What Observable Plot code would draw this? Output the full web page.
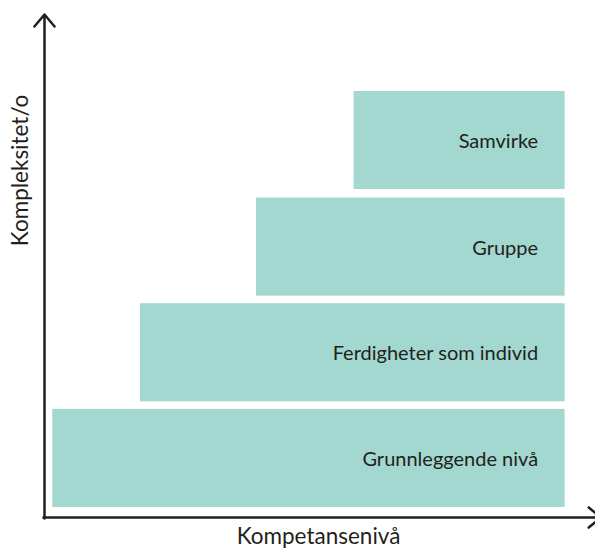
<!DOCTYPE html>
<html>
<head>
<meta charset="utf-8">
<script src="https://cdn.jsdelivr.net/npm/d3@7"></script>
<script src="https://cdn.jsdelivr.net/npm/@observablehq/plot@0.6"></script>
<style>
  html, body { margin: 0; padding: 0; background: #ffffff; }
  #chart svg { display: block; }
</style>
</head>
<body>
<div id="chart"></div>
<script>
// Levels, bottom to top
const levels = ["Grunnleggende nivå", "Ferdigheter som individ", "Gruppe", "Samvirke"];
const startX = [1.5, 17.5, 38.7, 56.5];
const endX = [95, 95, 95, 95];
const lowY = [2, 23, 44, 65.2];
const highY = [21.5, 42.5, 63.5, 84.7];

const xLabel = "Kompetansenivå";
const yLabel = "Kompleksitet/o";
const xDomain = [0, 100];
const yDomain = [0, 100];

const data = levels.map((name, i) => ({
  name, x1: startX[i], x2: endX[i], y1: lowY[i], y2: highY[i], ym: (lowY[i] + highY[i]) / 2
}));

const ink = "#231f20";

const chart = Plot.plot({
  width: 595,
  height: 552,
  marginLeft: 44,
  marginRight: 3,
  marginTop: 14,
  marginBottom: 35,
  x: {domain: xDomain, axis: null},
  y: {domain: yDomain, axis: null},
  style: {fontFamily: "Lato, 'Open Sans', sans-serif", background: "#ffffff"},
  marks: [
    Plot.rect(data, {x1: "x1", x2: "x2", y1: "y1", y2: "y2", fill: "#a2d8cf"}),
    Plot.text(data, {x: "x2", y: "ym", text: "name", textAnchor: "end", dx: -27, dy: 1, fontSize: 20, fill: ink}),
    // axes with arrows
    Plot.arrow([{x1: xDomain[0] - 0.2, y1: yDomain[0], x2: xDomain[1] + 1.5, y2: yDomain[0]}],
      {x1: "x1", y1: "y1", x2: "x2", y2: "y2", stroke: ink, strokeWidth: 2.5, headAngle: 80, headLength: 9.4}),
    Plot.arrow([{x1: xDomain[0], y1: yDomain[0] - 0.2, x2: xDomain[0], y2: yDomain[1]}],
      {x1: "x1", y1: "y1", x2: "x2", y2: "y2", stroke: ink, strokeWidth: 2.5, headAngle: 80, headLength: 9.4}),
    Plot.text([xLabel], {frameAnchor: "bottom", text: d => d, dy: 26, fontSize: 22.5, fill: ink}),
    Plot.text([yLabel], {x: xDomain[0], y: 69, text: d => d, rotate: -90, dx: -24, fontSize: 22.5, fill: ink})
  ]
});

document.getElementById("chart").append(chart);
</script>
</body>
</html>
